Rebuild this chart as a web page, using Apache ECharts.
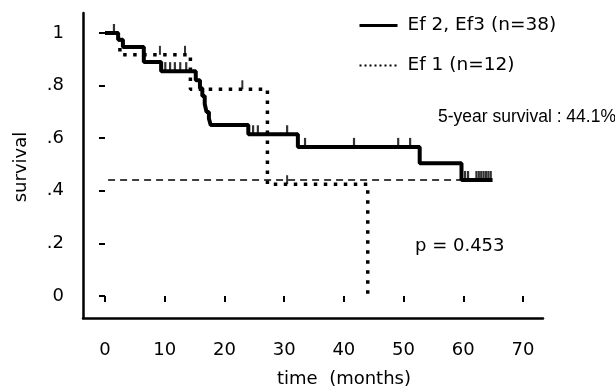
<!DOCTYPE html>
<html>
<head>
<meta charset="utf-8">
<script src="https://cdn.jsdelivr.net/npm/echarts@6.0.0/dist/echarts.min.js"></script>
<style>
html,body{margin:0;padding:0;background:#fff;}
#chart{width:615px;height:388px;}
</style>
</head>
<body>
<div id="chart"></div>
<script>
// ---- data ----
const seriesNames = ['Ef 2, Ef3 (n=38)', 'Ef 1 (n=12)'];

// Ef2/Ef3 Kaplan-Meier curve (time in months, survival after the event)
const solidTimes = [0, 2.2, 3.0, 6.5, 9.4, 15.2, 15.9, 16.3, 16.7, 17.0, 17.4, 17.7, 24.0, 32.3, 52.7, 59.7, 64.9];
const solidSurv  = [1.0, 0.974, 0.947, 0.89, 0.855, 0.82, 0.79, 0.76, 0.73, 0.70, 0.675, 0.65, 0.615, 0.567, 0.505, 0.441, 0.441];
// censored observations on Ef2/Ef3
const solidCensorTimes = [1.5, 10.1, 10.9, 11.7, 12.6, 13.6, 24.8, 25.6, 30.5, 33.5, 41.7, 49.1, 51.1, 60.3, 60.8, 62.2, 62.6, 63.0, 63.4, 63.8, 64.2, 64.6];
const solidCensorSurv  = [1.0, 0.855, 0.855, 0.855, 0.855, 0.855, 0.615, 0.615, 0.615, 0.567, 0.567, 0.567, 0.567, 0.441, 0.441, 0.441, 0.441, 0.441, 0.441, 0.441, 0.441, 0.441];

// Ef1 Kaplan-Meier curve
const dottedTimes = [0, 2.5, 14.3, 27.2, 44.0];
const dottedSurv  = [1.0, 0.917, 0.786, 0.425, 0.0];
const dottedCensorTimes = [9.2, 13.4, 23.0, 30.5];
const dottedCensorSurv  = [0.917, 0.917, 0.786, 0.425];

// 5-year survival reference line
const refTimes = [-3.5, 60.5];
const refSurv  = [0.441, 0.441];

const yTickLabels = ['0', '.2', '.4', '.6', '.8', '1'];
const xTickLabels = ['0', '10', '20', '30', '40', '50', '60', '70'];

const annotSurvival = '5-year survival : 44.1%';
const annotP = 'p = 0.453';
const xTitle = 'time  (months)';
const yTitle = 'survival';

// ---- chart ----
const FONT = 'DejaVu Sans';
const pairs = (ts, vs) => ts.map((t, i) => [t, vs[i]]);

const chart = echarts.init(document.getElementById('chart'), null, {renderer: 'canvas'});
chart.setOption({
  animation: false,
  backgroundColor: '#fff',
  color: ['#000', '#000', '#000', '#000', '#000'],
  textStyle: {fontFamily: FONT, color: '#000'},
  legend: {
    left: 353, top: 11, orient: 'vertical',
    itemWidth: 38, itemHeight: 20, itemGap: 21,
    selectedMode: false,
    itemStyle: {opacity: 0},
    textStyle: {fontFamily: FONT, fontSize: 18.5, color: '#000', padding: [0, 0, 0, 5]},
    data: [
      {name: seriesNames[0], itemStyle: {opacity: 0}, lineStyle: {width: 3, color: '#000', type: 'solid'}},
      {name: seriesNames[1], itemStyle: {opacity: 0}, lineStyle: {width: 2, color: '#000', type: [2, 3]}}
    ]
  },
  grid: [
    {left: 105, right: 92, top: 33, bottom: 92},
    {left: 83, right: 72, top: 13, bottom: 70}
  ],
  xAxis: [
    {
      gridIndex: 0, type: 'value', min: 0, max: 70, interval: 10, offset: 22,
      axisLine: {show: false},
      axisTick: {show: true, length: 6, lineStyle: {color: '#000', width: 2}},
      axisLabel: {margin: 23, fontSize: 18, fontFamily: FONT, color: '#000',
        formatter: v => xTickLabels[Math.round(v / 10)]},
      splitLine: {show: false}
    },
    {
      gridIndex: 1, type: 'value', min: 0, max: 1,
      axisLine: {show: true, onZero: false, lineStyle: {color: '#000', width: 2.5}},
      axisTick: {show: false}, axisLabel: {show: false}, splitLine: {show: false}
    }
  ],
  yAxis: [
    {
      gridIndex: 0, type: 'value', min: 0, max: 1, interval: 0.2, offset: 22,
      axisLine: {show: false},
      axisTick: {show: true, length: 6, lineStyle: {color: '#000', width: 2}},
      axisLabel: {margin: 19, fontSize: 18, fontFamily: FONT, color: '#000',
        formatter: v => yTickLabels[Math.round(v / 0.2)]},
      splitLine: {show: false}
    },
    {
      gridIndex: 1, type: 'value', min: 0, max: 1,
      axisLine: {show: true, onZero: false, lineStyle: {color: '#000', width: 2.5}},
      axisTick: {show: false}, axisLabel: {show: false}, splitLine: {show: false}
    }
  ],
  series: [
    {
      name: '5-year', type: 'line', xAxisIndex: 0, yAxisIndex: 0, clip: false,
      data: pairs(refTimes, refSurv), symbol: 'none',
      lineStyle: {color: '#000', width: 1.5, type: [7, 5]}, z: 1
    },
    {
      name: seriesNames[1], type: 'line', step: 'end', xAxisIndex: 0, yAxisIndex: 0,
      data: pairs(dottedTimes, dottedSurv), symbol: 'none', showSymbol: false,
      itemStyle: {color: '#000'},
      lineStyle: {color: '#000', width: 3.5, type: [3.5, 6.5], cap: 'butt'}, z: 2
    },
    {
      name: 'Ef1 censored', type: 'scatter', xAxisIndex: 0, yAxisIndex: 0,
      data: pairs(dottedCensorTimes, dottedCensorSurv),
      symbol: 'rect', symbolSize: [2, 9], symbolOffset: [0, -4.5],
      itemStyle: {color: '#000'}, z: 2
    },
    {
      name: seriesNames[0], type: 'line', step: 'end', xAxisIndex: 0, yAxisIndex: 0,
      data: pairs(solidTimes, solidSurv), symbol: 'none', showSymbol: false,
      itemStyle: {color: '#000'},
      lineStyle: {color: '#000', width: 4}, z: 3
    },
    {
      name: 'Ef2/Ef3 censored', type: 'scatter', xAxisIndex: 0, yAxisIndex: 0,
      data: pairs(solidCensorTimes, solidCensorSurv),
      symbol: 'rect', symbolSize: [2.2, 9], symbolOffset: [0, -4.5],
      itemStyle: {color: '#000'}, z: 3
    }
  ],
  graphic: [
    {type: 'text', x: 438, y: 117, style: {text: annotSurvival, font: '17.5px "Liberation Sans"', fill: '#000', textAlign: 'left', textVerticalAlign: 'middle'}},
    {type: 'text', left: 415, top: 237, style: {text: annotP, font: '18px "DejaVu Sans"', fill: '#000'}},
    {type: 'text', x: 344, y: 379, style: {text: xTitle, font: '18px "DejaVu Sans"', fill: '#000', textAlign: 'center', textVerticalAlign: 'middle'}},
    {type: 'text', x: 21, y: 167, rotation: Math.PI / 2, style: {text: yTitle, font: '18px "DejaVu Sans"', fill: '#000', textAlign: 'center', textVerticalAlign: 'middle'}}
  ]
});
</script>
</body>
</html>
